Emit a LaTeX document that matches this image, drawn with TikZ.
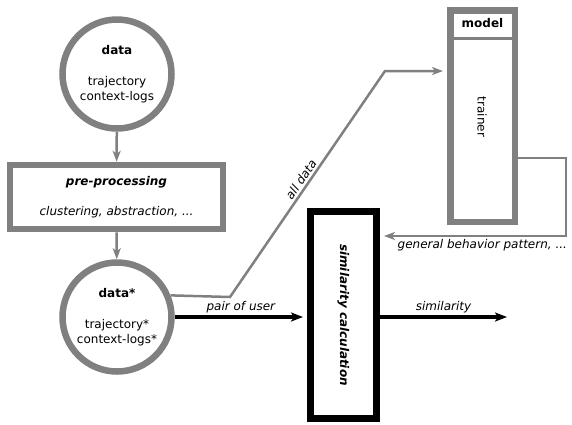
\documentclass[tikz,border=0pt]{standalone}
\usepackage{fontspec}
\setmainfont{DejaVu Sans}
\usepackage{graphicx}
\usetikzlibrary{arrows.meta}
\definecolor{boxgray}{RGB}{128,128,128}

\begin{document}
\begin{tikzpicture}[x=1pt, y=-1pt, font=\fontsize{12}{15.5}\selectfont]
  \tikzset{
    gray_circle/.style={circle, draw=boxgray, fill=white, line width=6.5pt, minimum size=109pt, inner sep=0pt, align=center},
    gray_box/.style={rectangle, draw=boxgray, fill=white, line width=6.5pt, inner sep=0pt, align=center},
    black_box/.style={rectangle, draw=black, fill=white, line width=7pt, inner sep=0pt},
    gray_arrow/.style={draw=boxgray, line width=2.5pt, -{Stealth[length=11pt, width=8pt, inset=3pt]}},
    black_arrow/.style={draw=black, line width=3.5pt, -{Stealth[length=12pt, width=9pt, inset=3pt]}},
    edge_label/.style={font=\fontsize{12}{15}\selectfont\itshape, inner sep=2pt}
  }

  \useasboundingbox (0,0) rectangle (572,424);

  % Datos y preprocesamiento
  \node[gray_circle] (data) at (117,74) {\textbf{data}\\[15.5pt]trajectory\\context-logs};
  \node[gray_box, minimum width=213pt, minimum height=64pt] (preproc) at (116.5,197) {\textbf{\textit{pre-processing}}\\[15pt]\textit{clustering, abstraction, ...}};
  \node[gray_circle] (data_star) at (117,317) {\textbf{data*}\\[15.5pt]trajectory*\\context-logs*};

  % Cálculo de similitud
  \node[black_box, minimum width=66pt, minimum height=207pt] (simcalc) at (343.5,315) {\rotatebox{-90}{\textbf{\textit{similarity calculation}}}};

  % Modelo
  \node[gray_box, minimum width=64.5pt, minimum height=211.5pt] (model) at (482.5,116) {};
  \node[minimum width=64.5pt, minimum height=31pt, inner sep=0pt, anchor=north] (model_head) at (model.north) {\textbf{model}};
  \node (trainer) at (482,117) {\rotatebox{-90}{trainer}};
  \draw[boxgray, line width=3pt] (model_head.south west) -- (model_head.south east);

  % Puntos de quiebre
  \coordinate (bend_low) at (230,297);
  \coordinate (bend_high) at (385,71);
  \coordinate (loop_top) at (566,158);
  \coordinate (loop_bottom) at (566,236);
  \coordinate (result) at (507,317);

  % Conexiones
  \draw[gray_arrow] (data) -- (preproc);
  \draw[gray_arrow] (preproc) -- (data_star);
  \draw[gray_arrow, shorten >=4pt] (data_star.22) -- (bend_low) -- node[edge_label, sloped, above]{all data} (bend_high) -- (bend_high -| model.west);
  \draw[gray_arrow, shorten >=4pt] (model.east |- loop_top) -- (loop_top) -- (loop_bottom) -- node[edge_label, below, pos=0.45]{general behavior pattern, ...} (loop_bottom -| simcalc.east);
  \draw[black_arrow, shorten >=4pt] (data_star) -- node[edge_label, above]{pair of user} (data_star -| simcalc.west);
  \draw[black_arrow] (simcalc.east |- result) -- node[edge_label, above]{similarity} (result);
\end{tikzpicture}
\end{document}
